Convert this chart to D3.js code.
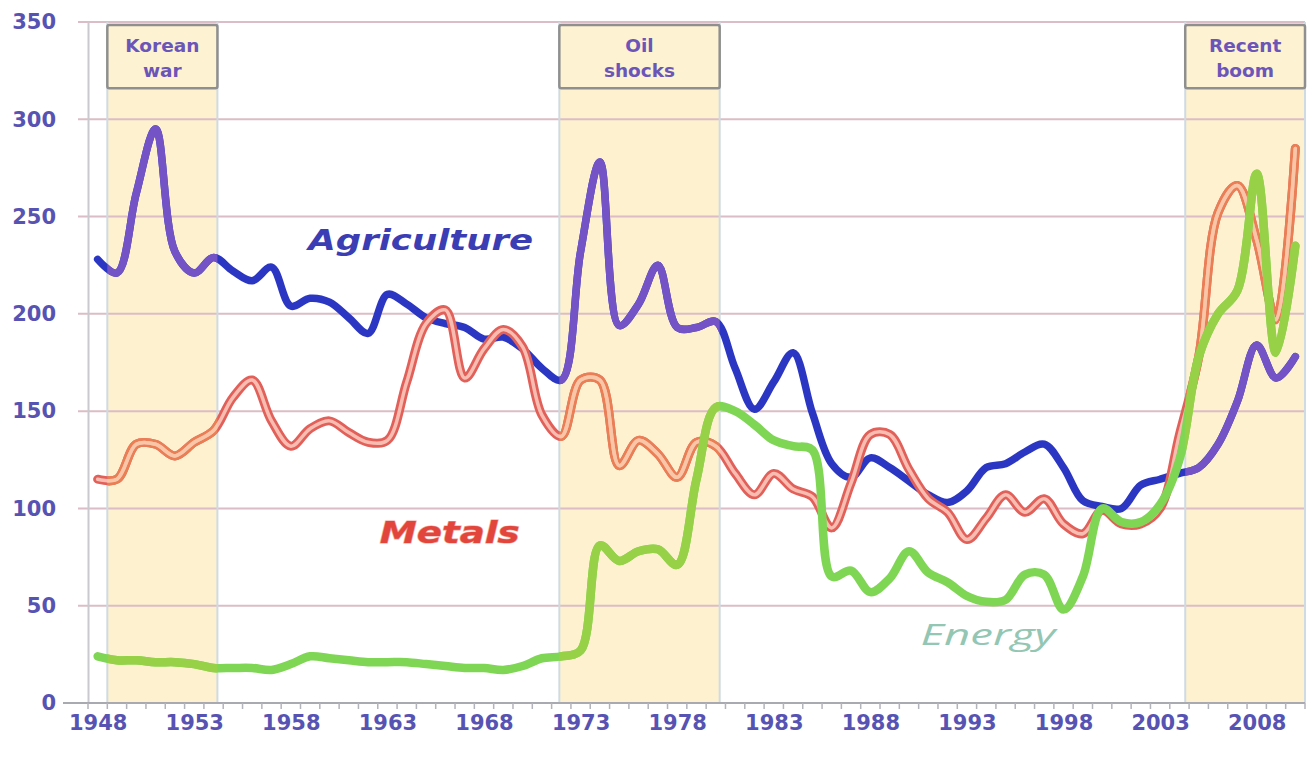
<!DOCTYPE html>
<html><head><meta charset="utf-8">
<script src="https://cdn.jsdelivr.net/npm/d3@7/dist/d3.min.js"></script>
<style>body{margin:0;background:#fff}svg{display:block}</style></head>
<body><svg id="chart" width="1312" height="759"></svg>
<script>
// ---------- data ----------
const years = d3.range(1948, 2011);
const agriculture = [228,221,262,295,232,221,229,222,217,224,204,208,206,198,190,210,205,198,195,193,187,188,182,172,166,232,278,194,205,225,193,193,196,172,151,165,180,149,123,116,126,121,114,107,103,109,121,123,129,133,121,104,101,100,112,115,118,121,133,155,184,167,178];
const metals = [115,115,133,133,127,134,140,157,166,145,132,141,145,139,134,135,165,195,202,167,182,192,183,148,137,166,166,122,135,128,116,134,132,118,107,118,110,106,90,113,138,138,120,105,98,84,95,107,98,105,92,87,99,92,92,100,138,178,252,266,238,197,285];
const energy = [24,22,22,21,21,20,18,18,18,17,20,24,23,22,21,21,21,20,19,18,18,17,19,23,24,27,81,73,78,79,71,115,152,150,143,135,132,130,65,68,57,64,78,67,62,55,52,53,66,66,48,65,100,93,93,102,125,178,200,212,272,180,235];
const yTicks = [0,50,100,150,200,250,300,350];
const xTickYears = [1948,1953,1958,1963,1968,1973,1978,1983,1988,1993,1998,2003,2008];
const episodeNames = [["Korean","war"],["Oil","shocks"],["Recent","boom"]];
const episodeStart = [1948.5, 1971.9, 2004.3];
const episodeEnd = [1954.2, 1980.2, 2010.5];
const seriesNames = ["Agriculture","Metals","Energy"];

// ---------- scales ----------
const svg = d3.select("#chart");
const x = d3.scaleLinear().domain([1947.5, 2010.5]).range([88, 1305]);
const y = d3.scaleLinear().domain([0, 350]).range([703, 22]);
const FONT = "'DejaVu Sans', Verdana, sans-serif";

// ---------- bands ----------
const episodes = episodeNames.map((n,i)=>({name:n,start:episodeStart[i],end:episodeEnd[i]}));
svg.append("g").selectAll("rect").data(episodes).join("rect")
  .attr("x", d=>x(d.start)).attr("width", d=>x(d.end)-x(d.start))
  .attr("y", y(350)).attr("height", y(0)-y(350))
  .attr("fill", "#fdf1cf");

// clip for in-band line colours
const defs = svg.append("defs");
const clip = defs.append("clipPath").attr("id","bandClip");
clip.selectAll("rect").data(episodes).join("rect")
  .attr("x", d=>x(d.start)).attr("width", d=>x(d.end)-x(d.start))
  .attr("y", 0).attr("height", 759);

// ---------- grid ----------
svg.append("g").selectAll("line").data(yTicks.filter(t=>t>0)).join("line")
  .attr("x1", 78).attr("x2", 1305)
  .attr("y1", d=>y(d)).attr("y2", d=>y(d))
  .attr("stroke", "#dcbcc6").attr("stroke-width", 2);

// band edges
svg.append("g").selectAll("line").data(episodes.flatMap(d=>[d.start,d.end])).join("line")
  .attr("x1", d=>x(d)).attr("x2", d=>x(d))
  .attr("y1", y(350)).attr("y2", y(0))
  .attr("stroke", "#cfdbe3").attr("stroke-width", 2);

// y axis
const yAxis = svg.append("g").attr("transform", `translate(${x(1947.5)},0)`)
  .call(d3.axisLeft(y).tickValues(yTicks).tickSize(0).tickPadding(32));
yAxis.select(".domain").attr("stroke", "#c9c9cf").attr("stroke-width", 2);
yAxis.selectAll("text").attr("font-family", FONT).attr("font-weight", "bold")
  .attr("font-size", 21).attr("fill", "#5753b3");

// x axis
const xAxis = svg.append("g").attr("transform", `translate(0,${y(0)})`)
  .call(d3.axisBottom(x).tickValues(xTickYears).tickSize(0).tickPadding(12).tickFormat(d3.format("d")));
xAxis.select(".domain").remove();
xAxis.selectAll("text").attr("font-family", FONT).attr("font-weight", "bold")
  .attr("font-size", 21).attr("fill", "#5753b3");
svg.append("line").attr("x1", 63).attr("x2", 1305).attr("y1", y(0)).attr("y2", y(0))
  .attr("stroke", "#a9a9b2").attr("stroke-width", 2);
svg.append("g").selectAll("line").data(d3.range(1947.5, 2011, 1)).join("line")
  .attr("x1", d=>x(d)).attr("x2", d=>x(d)).attr("y1", y(0)).attr("y2", y(0)+6)
  .attr("stroke", "#b3b3bb").attr("stroke-width", 1.5);

// ---------- lines ----------
const line = d3.line().x((d,i)=>x(years[i])).y(d=>y(d)).curve(d3.curveCatmullRom.alpha(0.5));
const lines = svg.append("g").attr("fill", "none").attr("stroke-linejoin", "round").attr("stroke-linecap", "round");
function draw(data, stroke, width, clipped){
  const p = lines.append("path").attr("d", line(data)).attr("stroke", stroke).attr("stroke-width", width);
  if (clipped) p.attr("clip-path", "url(#bandClip)");
}
draw(agriculture, "#2b37c2", 7.5, false);
draw(agriculture, "#7453c6", 7.5, true);
draw(metals, "#e2605a", 9, false);
draw(metals, "#ea7f56", 9, true);
draw(metals, "#f8bcb0", 3.5, false);
draw(metals, "#f9c6a8", 3.5, true);
draw(energy, "#7fd655", 8.5, false);
draw(energy, "#96d147", 8.5, true);

// ---------- episode boxes ----------
const boxes = svg.append("g").selectAll("g").data(episodes).join("g");
boxes.append("rect")
  .attr("x", d=>x(d.start)).attr("width", d=>x(d.end)-x(d.start))
  .attr("y", y(348.5)).attr("height", y(316)-y(348.5)).attr("rx", 2)
  .attr("fill", "#fdf2d2").attr("stroke", "#8f8f8f").attr("stroke-width", 2.5);
boxes.each(function(d){
  const g = d3.select(this);
  d.name.forEach((t,k)=>{
    g.append("text").text(t)
      .attr("x", (x(d.start)+x(d.end))/2).attr("y", k===0 ? 52 : 77)
      .attr("text-anchor", "middle").attr("font-family", FONT).attr("font-weight", "bold")
      .attr("font-size", 18.5).attr("fill", "#6b55b9");
  });
});

// ---------- series labels ----------
svg.append("text").text(seriesNames[0])
  .attr("x", x(1958.9)).attr("y", y(233))
  .attr("font-family", FONT).attr("font-weight", "bold").attr("font-style", "italic")
  .attr("font-size", 29).attr("fill", "#3a3db4")
  .attr("textLength", 225).attr("lengthAdjust", "spacingAndGlyphs");
svg.append("text").text(seriesNames[1])
  .attr("x", x(1962.6)).attr("y", y(82))
  .attr("font-family", FONT).attr("font-weight", "bold").attr("font-style", "italic")
  .attr("font-size", 31).attr("fill", "#e2453b").attr("stroke", "#f3a79e").attr("stroke-width", 1.2)
  .attr("paint-order", "stroke")
  .attr("textLength", 140).attr("lengthAdjust", "spacingAndGlyphs");
svg.append("text").text(seriesNames[2])
  .attr("x", x(1990.6)).attr("y", y(30))
  .attr("font-family", "'Open Sans', sans-serif").attr("font-style", "italic")
  .attr("font-size", 30).attr("fill", "#93c6b3")
  .attr("textLength", 135).attr("lengthAdjust", "spacingAndGlyphs");
</script></body></html>
